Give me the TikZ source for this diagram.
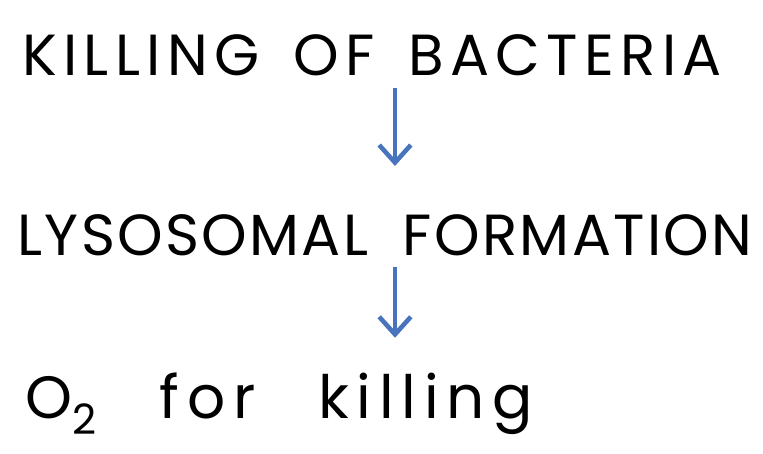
\documentclass[tikz,border=0pt]{standalone}
\usepackage{fontspec}
\setmainfont{Poppins}
\usetikzlibrary{arrows.meta,positioning}
\definecolor{arrowblue}{RGB}{72,116,190}

\begin{document}
\begin{tikzpicture}[x=0.02cm,y=-0.02cm,
  stage/.style={font=\fontsize{33}{40}\selectfont\addfontfeature{LetterSpace=11},inner sep=0pt},
  gap/.style={execute at begin node={\spaceskip=#1\relax}},
  flow/.style={draw=arrowblue,line width=2.6pt,-{Straight Barb[length=10pt,width=18pt,line width=2.6pt]}}]
\useasboundingbox (0,0) rectangle (763,453);
\node[stage,gap=0.58em] (kill) at (372,55) {KILLING OF BACTERIA};
\node[stage,gap=0.6em,font=\fontsize{33}{40}\selectfont\addfontfeature{LetterSpace=4}] (lyso) at (385,235) {LYSOSOMAL FORMATION};
\node[stage,gap=1.05em,anchor=west,font=\fontsize{34}{40}\selectfont\addfontfeature{LetterSpace=13}] (oxy) at (25,404) {O\textsubscript{2} for killing};
\coordinate (arr) at (395,0);
% arrows between the stages
\draw[flow,shorten <=0.24cm,shorten >=0.96cm] (kill.south-|arr) -- (lyso.north-|arr);
\draw[flow,shorten <=0.22cm,shorten >=0.7cm] (lyso.south-|arr) -- (oxy.north-|arr);
\end{tikzpicture}
\end{document}
